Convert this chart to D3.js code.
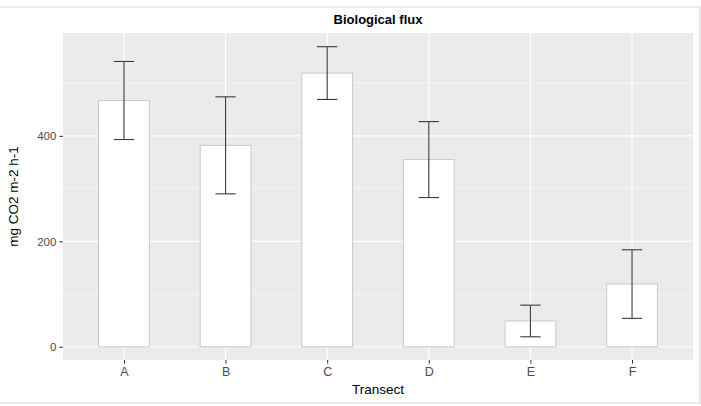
<!DOCTYPE html>
<meta charset="utf-8">
<style>
    body { margin: 0; background: #fff; }
    text { font-family: "Liberation Sans", Arial, sans-serif; }
    .grid-major { stroke: #fff; stroke-width: 1.1px; }
    .grid-minor { stroke: #fff; stroke-width: 0.55px; }
    .bar { fill: #fff; stroke: #c8c8c8; stroke-width: 1px; }
    .err { stroke: #3a3a3a; stroke-width: 1.1px; fill: none; }
    .tick line { stroke: #333; }
    .tick text { fill: #4d4d4d; }
</style>
<svg width="701" height="406"></svg>
<script src="https://cdnjs.cloudflare.com/ajax/libs/d3/7.8.5/d3.min.js"></script>
<script>

    // values
    const transects = ["A", "B", "C", "D", "E", "F"];
    const fluxMean = [467, 382, 519, 355, 49, 119];
    const fluxErr = [74, 92, 50, 72, 30, 65];
    const yTicks = [0, 200, 400];
    const yMinor = [100, 300, 500];

    var svg = d3.select("svg"),
        width = +svg.attr("width"),
        height = +svg.attr("height");

    // faint frame around the whole plot
    svg.append("rect")
        .attr("x", -2).attr("y", 7)
        .attr("width", 702).attr("height", 396)
        .attr("fill", "none")
        .attr("stroke", "#e3e3e3")
        .attr("stroke-width", 1.5);

    const panel = { left: 63, right: 693, top: 33, bottom: 360 };

    var x = d3.scalePoint()
        .domain(transects)
        .range([panel.left, panel.right])
        .padding(0.6);
    const step = x.step();

    var y = d3.scaleLinear()
        .domain([-25, 595])
        .range([panel.bottom, panel.top]);

    var g = svg.append("g");

    g.append("rect")
        .attr("x", panel.left).attr("y", panel.top)
        .attr("width", panel.right - panel.left)
        .attr("height", panel.bottom - panel.top)
        .attr("fill", "#ebebeb");

    g.selectAll(".grid-minor")
        .data(yMinor)
        .enter().append("line")
            .attr("class", "grid-minor")
            .attr("x1", panel.left).attr("x2", panel.right)
            .attr("y1", function(d) { return y(d); })
            .attr("y2", function(d) { return y(d); });

    g.selectAll(".grid-major.h")
        .data(yTicks)
        .enter().append("line")
            .attr("class", "grid-major h")
            .attr("x1", panel.left).attr("x2", panel.right)
            .attr("y1", function(d) { return y(d); })
            .attr("y2", function(d) { return y(d); });

    g.selectAll(".grid-major.v")
        .data(transects)
        .enter().append("line")
            .attr("class", "grid-major v")
            .attr("y1", panel.top).attr("y2", panel.bottom)
            .attr("x1", function(d) { return x(d); })
            .attr("x2", function(d) { return x(d); });

    const data = transects.map(function(t, i) {
        return { t: t, mean: fluxMean[i], err: fluxErr[i] };
    });

    const barW = step * 0.5, capW = step * 0.2;

    g.selectAll(".bar")
        .data(data)
        .enter().append("rect")
            .attr("class", "bar")
            .attr("x", function(d) { return x(d.t) - barW / 2; })
            .attr("width", barW)
            .attr("y", function(d) { return y(d.mean); })
            .attr("height", function(d) { return y(0) - y(d.mean); });

    var err = g.selectAll(".errbar")
        .data(data)
        .enter().append("g")
            .attr("class", "errbar");

    err.append("line")
        .attr("class", "err")
        .attr("x1", function(d) { return x(d.t); })
        .attr("x2", function(d) { return x(d.t); })
        .attr("y1", function(d) { return y(d.mean - d.err); })
        .attr("y2", function(d) { return y(d.mean + d.err); });

    [-1, 1].forEach(function(s) {
        err.append("line")
            .attr("class", "err")
            .attr("x1", function(d) { return x(d.t) - capW / 2; })
            .attr("x2", function(d) { return x(d.t) + capW / 2; })
            .attr("y1", function(d) { return y(d.mean + s * d.err); })
            .attr("y2", function(d) { return y(d.mean + s * d.err); });
    });

    // axes
    var xAxis = svg.append("g")
        .attr("transform", "translate(0," + panel.bottom + ")")
        .call(d3.axisBottom(x).tickSize(3.7).tickPadding(3));
    xAxis.select(".domain").remove();
    xAxis.selectAll("text").style("font-size", "12.5px");

    var yAxis = svg.append("g")
        .attr("transform", "translate(" + panel.left + ",0)")
        .call(d3.axisLeft(y).tickValues(yTicks).tickSize(3.7).tickPadding(3));
    yAxis.select(".domain").remove();
    yAxis.selectAll("text").style("font-size", "11.5px");

    svg.append("text")
        .attr("x", (panel.left + panel.right) / 2)
        .attr("y", 24)
        .attr("text-anchor", "middle")
        .style("font-size", "13px")
        .style("font-weight", "bold")
        .text("Biological flux");

    svg.append("text")
        .attr("x", (panel.left + panel.right) / 2)
        .attr("y", 394)
        .attr("text-anchor", "middle")
        .style("font-size", "13.5px")
        .text("Transect");

    svg.append("text")
        .attr("transform", "translate(18," + (panel.top + panel.bottom) / 2 + ") rotate(-90)")
        .attr("text-anchor", "middle")
        .style("font-size", "13.5px")
        .text("mg CO2 m-2 h-1");

</script>
